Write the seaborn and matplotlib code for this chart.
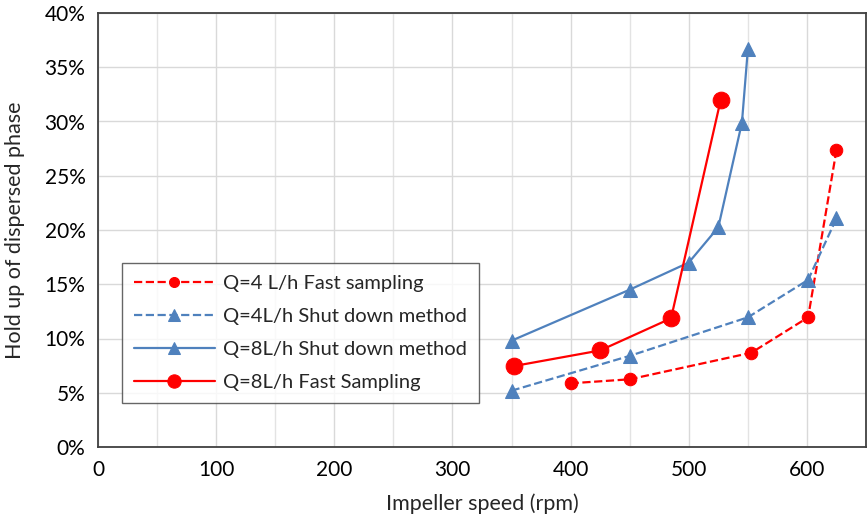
import matplotlib
matplotlib.use("Agg")
import matplotlib.pyplot as plt
import seaborn as sns
import pandas as pd
from matplotlib.ticker import MultipleLocator, PercentFormatter

# Data (impeller speed rpm, hold-up fraction)
q4_fast_x = [400, 450, 553, 601, 625]
q4_fast_y = [0.0587, 0.0624, 0.0869, 0.1195, 0.2737]
q4_shut_x = [350, 450, 550, 601, 625]
q4_shut_y = [0.0519, 0.0840, 0.1195, 0.1540, 0.2107]
q8_shut_x = [350, 450, 500, 525, 545, 550]
q8_shut_y = [0.0980, 0.1450, 0.1700, 0.2025, 0.2990, 0.3665]
q8_fast_x = [352, 425, 485, 527]
q8_fast_y = [0.0746, 0.0890, 0.1186, 0.3198]

labels = ["Q=4 L/h Fast sampling", "Q=4L/h Shut down method",
          "Q=8L/h Shut down method", "Q=8L/h Fast Sampling"]

sns.set_style("white")
plt.rcParams['font.family'] = ['Lato', 'DejaVu Sans']

fig = plt.figure(figsize=(8.68, 5.2), dpi=100)
ax = fig.add_axes([98/868, 1 - 447/520, (866 - 98)/868, (447 - 13)/520])

red = "#ff0000"
blue = "#4f81bd"

series = [
    (q4_fast_x, q4_fast_y, labels[0], red, "--", "o", 9),
    (q4_shut_x, q4_shut_y, labels[1], blue, "--", "^", 10),
    (q8_shut_x, q8_shut_y, labels[2], blue, "-", "^", 10),
    (q8_fast_x, q8_fast_y, labels[3], red, "-", "o", 12),
]
for xs, ys, lab, col, ls, mk, ms in series:
    df = pd.DataFrame({"x": xs, "y": ys})
    kw = {}
    if ls == "--":
        kw["dashes"] = (3.5, 2.5)
    sns.lineplot(data=df, x="x", y="y", ax=ax, color=col, linestyle=ls,
                 marker=mk, markersize=ms, markeredgecolor=col, linewidth=1.6,
                 label=lab, sort=False, zorder=3, **kw)

ax.set_xlim(0, 650)
ax.set_ylim(0, 0.40)
ax.xaxis.set_major_locator(MultipleLocator(100))
ax.xaxis.set_minor_locator(MultipleLocator(50))
ax.yaxis.set_major_locator(MultipleLocator(0.05))
ax.yaxis.set_major_formatter(PercentFormatter(1.0, decimals=0))
ax.grid(True, which="major", color="#d9d9d9", linewidth=1.0)
ax.grid(True, which="minor", axis="x", color="#e3e3e3", linewidth=1.0)
ax.set_axisbelow(True)
for s in ax.spines.values():
    s.set_color("#404040")
    s.set_linewidth(1.3)
ax.tick_params(axis="both", which="both", length=0, labelsize=15, colors="#000000", pad=9)

ax.set_xlabel("Impeller speed (rpm)", fontsize=15.5, labelpad=10)
ax.set_ylabel("Hold up of dispersed phase", fontsize=15.5, labelpad=14)

leg = ax.legend(loc="upper left", bbox_to_anchor=((122 - 98)/768, (447 - 263)/434),
                borderaxespad=0,
                fontsize=14.5, frameon=True, fancybox=False, edgecolor="#404040",
                handlelength=4.0, numpoints=1, borderpad=0.6, labelspacing=0.78,
                handletextpad=0.4, markerscale=0.8)
leg.get_frame().set_linewidth(1.0)

fig.savefig("out.png", dpi=100)
